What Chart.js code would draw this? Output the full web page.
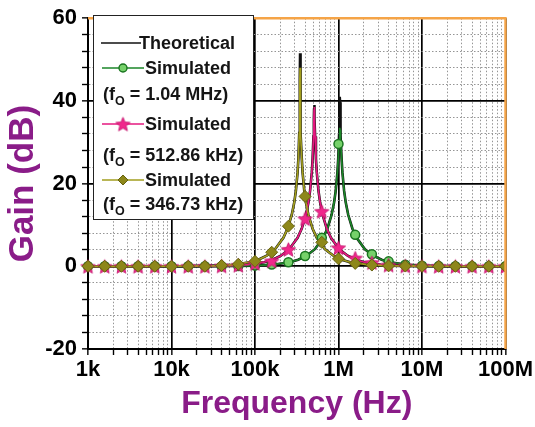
<!DOCTYPE html>
<html><head><meta charset="utf-8">
<script src="https://cdn.jsdelivr.net/npm/chart.js@4.4.0/dist/chart.umd.min.js"></script>
<style>
html,body{margin:0;padding:0;background:#fff;}
#wrap{position:relative;width:535px;height:427px;overflow:hidden;background:#fff;}
#c{position:absolute;left:0;top:0;}
#legend{position:absolute;left:93px;top:15px;width:161px;height:205px;box-sizing:border-box;border:1.5px solid #222;background:#fff;font-family:'Liberation Sans',Arial,sans-serif;font-weight:bold;font-size:18px;color:#151515;}
.row{position:absolute;height:22px;line-height:22px;white-space:nowrap;}
.sw{position:absolute;}
sub{font-size:12.5px;vertical-align:-5px;line-height:0;}
</style></head>
<body>
<div id="wrap">
<canvas id="c" width="535" height="427"></canvas>
<div id="legend">
  <canvas class="sw" id="s0" width="40" height="16" style="left:7px;top:18.5px"></canvas>
  <div class="row" style="left:45px;top:15.5px">Theoretical</div>
  <canvas class="sw" id="s1" width="42" height="16" style="left:8px;top:43.5px"></canvas>
  <div class="row" style="left:51px;top:40.5px">Simulated</div>
  <div class="row" style="left:9px;top:66.5px">(f<sub>O</sub> = 1.04 MHz)</div>
  <canvas class="sw" id="s2" width="42" height="16" style="left:8px;top:99.5px"></canvas>
  <div class="row" style="left:51px;top:96.5px">Simulated</div>
  <div class="row" style="left:9px;top:127.5px">(f<sub>O</sub> = 512.86 kHz)</div>
  <canvas class="sw" id="s3" width="42" height="16" style="left:8px;top:155.5px"></canvas>
  <div class="row" style="left:51px;top:152.5px">Simulated</div>
  <div class="row" style="left:9px;top:176.5px">(f<sub>O</sub> = 346.73 kHz)</div>
</div>
</div>
<script>
// ---------- data ----------
const xMajorTicks = [1e3, 1e4, 1e5, 1e6, 1e7, 1e8];
const xMajorLabels = ['1k', '10k', '100k', '1M', '10M', '100M'];
const yMajorTicks = [-20, 0, 20, 40, 60];

// resonance frequencies (Hz)
const f0Green = 1.04e6;
const f0Pink = 512.86e3;
const f0Olive = 346.73e3;

// offsets (decades) from resonance at which the curves are sampled
const curveOffsets = [-3.1, -2.0, -1.5, -1.0, -0.8, -0.6, -0.5, -0.4, -0.3, -0.2, -0.15, -0.1, -0.07, -0.05, -0.03, -0.02, -0.01, -0.005, -0.002, 0, 0.002, 0.005, 0.01, 0.02, 0.03, 0.05, 0.07, 0.1, 0.15, 0.2, 0.3, 0.4, 0.5, 0.6, 0.8, 1.0, 1.5, 2.0, 2.5];

// theoretical gain (dB)
const theoryGreen = [0, 0, 0.02, 0.16, 0.39, 0.99, 1.58, 2.55, 4.14, 6.91, 9.12, 12.43, 15.43, 18.3, 22.7, 26.1, 31.7, 36.3, 39.7, 41.0, 39.7, 36.3, 31.7, 26.1, 22.7, 18.3, 15.4, 12.4, 9.1, 6.9, 4.1, 2.55, 1.58, 0.99, 0.39, 0.16, 0.02, 0, 0];
const theoryPink = [0, 0, 0.02, 0.16, 0.39, 0.99, 1.58, 2.55, 4.14, 6.91, 9.12, 12.43, 15.43, 18.3, 22.7, 26.0, 31.4, 35.6, 38.2, 39.0, 38.2, 35.6, 31.4, 26.0, 22.7, 18.3, 15.4, 12.4, 9.1, 6.9, 4.1, 2.55, 1.58, 0.99, 0.39, 0.16, 0.02, 0, 0];
const theoryOlive = [0, 0, 0.02, 0.16, 0.39, 0.99, 1.58, 2.55, 4.14, 6.91, 9.12, 12.43, 15.43, 18.3, 22.7, 26.2, 32.2, 38.1, 45.1, 51.5, 45.1, 38.1, 32.2, 26.2, 22.7, 18.3, 15.4, 12.4, 9.1, 6.9, 4.1, 2.55, 1.58, 0.99, 0.39, 0.16, 0.02, 0, 0];

// simulated gain (dB), continuous traces
const simGreen = [0, 0, 0.02, 0.16, 0.39, 0.99, 1.58, 2.55, 4.14, 6.91, 9.12, 12.43, 15.43, 18.3, 22.7, 26.1, 30.5, 32.0, 33.0, 33.5, 33.0, 32.0, 30.5, 26.1, 22.7, 18.3, 15.4, 12.4, 9.1, 6.9, 4.1, 2.55, 1.58, 0.99, 0.39, 0.16, 0.02, 0, 0];
const simPink = [0, 0, 0.02, 0.16, 0.39, 0.99, 1.58, 2.55, 4.14, 6.91, 9.12, 12.43, 15.43, 18.3, 22.7, 26.0, 31.4, 35.4, 37.9, 38.5, 37.9, 35.4, 31.4, 26.0, 22.7, 18.3, 15.4, 12.4, 9.1, 6.9, 4.1, 2.55, 1.58, 0.99, 0.39, 0.16, 0.02, 0, 0];
const simOlive = [0, 0, 0.02, 0.16, 0.39, 0.99, 1.58, 2.55, 4.14, 6.91, 9.12, 12.43, 15.43, 18.3, 22.7, 26.2, 32.2, 38.0, 44.5, 48.0, 44.5, 38.0, 32.2, 26.2, 22.7, 18.3, 15.4, 12.4, 9.1, 6.9, 4.1, 2.55, 1.58, 0.99, 0.39, 0.16, 0.02, 0, 0];

// simulated marker points
const markerFreqs = [1000, 1585, 2512, 3981, 6310, 10000, 15849, 25119, 39811, 63096, 100000, 158489, 251189, 398107, 630957, 1000000, 1584893, 2511886, 3981072, 6309573, 10000000, 15848932, 25118864, 39810717, 63095734, 100000000];
const simGreenMarks = [0, 0, 0, 0, 0, 0, 0, 0, 0, 0.05, 0.2, 0.45, 1.0, 2.5, 6.9, 29.6, 7.6, 2.9, 1.2, 0.4, 0.15, 0.05, 0, 0, 0, 0];
const simPinkMarks = [0, 0, 0, 0, 0, 0, 0, 0, 0.1, 0.25, 0.7, 1.3, 4.1, 11.5, 13.3, 4.5, 2.0, 0.9, 0.3, 0.1, 0.05, 0, 0, 0, 0, 0];
const simOliveMarks = [0, 0, 0, 0, 0, 0, 0, 0, 0.2, 0.5, 1.2, 3.4, 9.7, 16.9, 5.8, 1.8, 0.7, 0.3, 0.1, 0.05, 0, 0, 0, 0, 0, 0];

// ---------- styles ----------
const purple = '#8a1c88';
const cGreenLine = '#1b8628', cGreenFill = '#76d16a', cGreenEdge = '#1a7420';
const cPink = '#e5187f', cPinkFill = '#f0288c';
const cOliveLine = '#a29e1e', cOliveFill = '#8d871a', cOliveEdge = '#66620e';
const fontFam = "'Liberation Sans', Arial, sans-serif";

// minor tick positions
const xTicks = [];
for (let e = 3; e < 8; e++) for (let m = 1; m <= 9; m++) xTicks.push(m * Math.pow(10, e));
xTicks.push(1e8);
const yTicks = [];
for (let v = -20; v <= 60; v += 4) yTicks.push(v);

function curve(f0, vals) { return curveOffsets.map((d, i) => ({x: f0 * Math.pow(10, d), y: vals[i]})); }
function marks(vals) { return markerFreqs.map((f, i) => ({x: f, y: vals[i]})); }

function makeStar(r, fill, stroke) {
  const c = document.createElement('canvas');
  const s = Math.ceil(r * 2 + 2);
  c.width = s; c.height = s;
  const g = c.getContext('2d');
  g.translate(s / 2, s / 2 + 0.8);
  g.beginPath();
  for (let i = 0; i < 10; i++) {
    const rad = i % 2 ? r * 0.45 : r;
    const a = -Math.PI / 2 + i * Math.PI / 5;
    g.lineTo(rad * Math.cos(a), rad * Math.sin(a));
  }
  g.closePath();
  g.fillStyle = fill; g.fill();
  g.strokeStyle = stroke; g.lineWidth = 0.8; g.stroke();
  return c;
}
const starImg = makeStar(7.5, cPinkFill, '#c0106a');

const isXMajor = v => xMajorTicks.includes(v);
const isYMajor = v => yMajorTicks.includes(v);

const frame = {
  id: 'frame',
  afterDatasetsDraw(chart) {
    const {ctx, chartArea: a} = chart;
    ctx.save();
    ctx.strokeStyle = '#f5a447';
    ctx.lineWidth = 2.4;
    ctx.beginPath();
    ctx.moveTo(a.left, a.top);
    ctx.lineTo(a.right, a.top);
    ctx.lineTo(a.right, a.bottom);
    ctx.stroke();
    ctx.restore();
  }
};

const markerClip = {left: 10, top: 10, right: 0, bottom: 10};

new Chart(document.getElementById('c'), {
  type: 'line',
  data: {
    datasets: [
      {label: 'Theoretical', data: curve(f0Green, theoryGreen), borderColor: '#111', borderWidth: 2.6, pointRadius: 0, order: 8},
      {label: 'Theoretical', data: curve(f0Pink, theoryPink), borderColor: '#111', borderWidth: 2.6, pointRadius: 0, order: 7},
      {label: 'Theoretical', data: curve(f0Olive, theoryOlive), borderColor: '#111', borderWidth: 2.6, pointRadius: 0, order: 6},
      {label: 'Sim green', data: curve(f0Green, simGreen), borderColor: cGreenLine, borderWidth: 1.7, pointRadius: 0, order: 5},
      {label: 'Sim pink', data: curve(f0Pink, simPink), borderColor: cPink, borderWidth: 1.7, pointRadius: 0, order: 4},
      {label: 'Sim olive', data: curve(f0Olive, simOlive), borderColor: cOliveLine, borderWidth: 1.7, pointRadius: 0, order: 3},
      {label: 'Sim green pts', data: marks(simGreenMarks), showLine: false, pointStyle: 'circle', pointRadius: 4.5,
        pointBackgroundColor: cGreenFill, pointBorderColor: cGreenEdge, pointBorderWidth: 1.5, order: 2, clip: markerClip},
      {label: 'Sim pink pts', data: marks(simPinkMarks), showLine: false, pointStyle: starImg, pointRadius: 7,
        order: 1, clip: markerClip},
      {label: 'Sim olive pts', data: marks(simOliveMarks), showLine: false, pointStyle: 'rectRot', pointRadius: 6,
        pointBackgroundColor: cOliveFill, pointBorderColor: cOliveEdge, pointBorderWidth: 1, order: 0, clip: markerClip}
    ]
  },
  options: {
    responsive: false,
    animation: false,
    events: [],
    layout: {padding: {top: 16, right: 29, bottom: 0, left: 0}},
    plugins: {legend: {display: false}, tooltip: {enabled: false}},
    scales: {
      x: {
        type: 'logarithmic', min: 1e3, max: 1e8,
        afterBuildTicks: s => { s.ticks = xTicks.map(v => ({value: v})); },
        afterFit: s => { s.height = 78; },
        ticks: {
          autoSkip: false, maxRotation: 0, minRotation: 0, padding: 2, color: '#000',
          font: {family: fontFam, size: 22, weight: 'bold'},
          callback: v => { const i = xMajorTicks.indexOf(v); return i >= 0 ? xMajorLabels[i] : ''; }
        },
        grid: {
          color: c => (c.tick && isXMajor(c.tick.value)) ? '#000' : '#959595',
          lineWidth: c => (c.tick && isXMajor(c.tick.value)) ? 1.7 : 1,
          tickColor: '#000', tickWidth: 1.4, tickLength: 6
        },
        border: {display: true, color: '#000', width: 2,
          dash: c => (c.tick && !isXMajor(c.tick.value)) ? [1.5, 2] : []},
        title: {display: true, text: 'Frequency (Hz)', color: purple,
          font: {family: fontFam, size: 32, weight: 'bold'}, padding: {top: 0, bottom: 4}}
      },
      y: {
        type: 'linear', min: -20, max: 60,
        afterBuildTicks: s => { s.ticks = yTicks.map(v => ({value: v})); },
        afterFit: s => { s.width = 88; },
        ticks: {
          autoSkip: false, padding: 5, color: '#000',
          font: {family: fontFam, size: 22, weight: 'bold'},
          callback: v => isYMajor(v) ? String(v) : ''
        },
        grid: {
          color: c => (c.tick && isYMajor(c.tick.value)) ? '#000' : '#959595',
          lineWidth: c => (c.tick && isYMajor(c.tick.value)) ? 1.7 : 1,
          tickColor: '#000', tickWidth: 1.4, tickLength: 6
        },
        border: {display: true, color: '#000', width: 2,
          dash: c => (c.tick && !isYMajor(c.tick.value)) ? [1.5, 2] : []},
        title: {display: true, text: 'Gain (dB)', color: purple,
          font: {family: fontFam, size: 35, weight: 'bold'}, padding: {top: 2, bottom: 0}}
      }
    }
  },
  plugins: [frame]
});

// ---------- legend samples ----------
function sample(id, color, marker) {
  const cv = document.getElementById(id);
  const g = cv.getContext('2d');
  const w = cv.width, h = cv.height;
  g.strokeStyle = color; g.lineWidth = 1.6;
  g.beginPath(); g.moveTo(0, h / 2); g.lineTo(w, h / 2); g.stroke();
  const cx = w / 2, cy = h / 2;
  if (marker === 'circle') {
    g.beginPath(); g.arc(cx, cy, 4, 0, Math.PI * 2);
    g.fillStyle = cGreenFill; g.fill(); g.strokeStyle = cGreenEdge; g.lineWidth = 1.4; g.stroke();
  } else if (marker === 'star') {
    g.drawImage(starImg, cx - starImg.width / 2, cy - starImg.height / 2);
  } else if (marker === 'diamond') {
    g.beginPath(); g.moveTo(cx, cy - 5); g.lineTo(cx + 5, cy); g.lineTo(cx, cy + 5); g.lineTo(cx - 5, cy); g.closePath();
    g.fillStyle = cOliveFill; g.fill(); g.strokeStyle = cOliveEdge; g.lineWidth = 1; g.stroke();
  }
}
sample('s0', '#111', null);
sample('s1', cGreenLine, 'circle');
sample('s2', cPink, 'star');
sample('s3', cOliveLine, 'diamond');
</script>
</body></html>
